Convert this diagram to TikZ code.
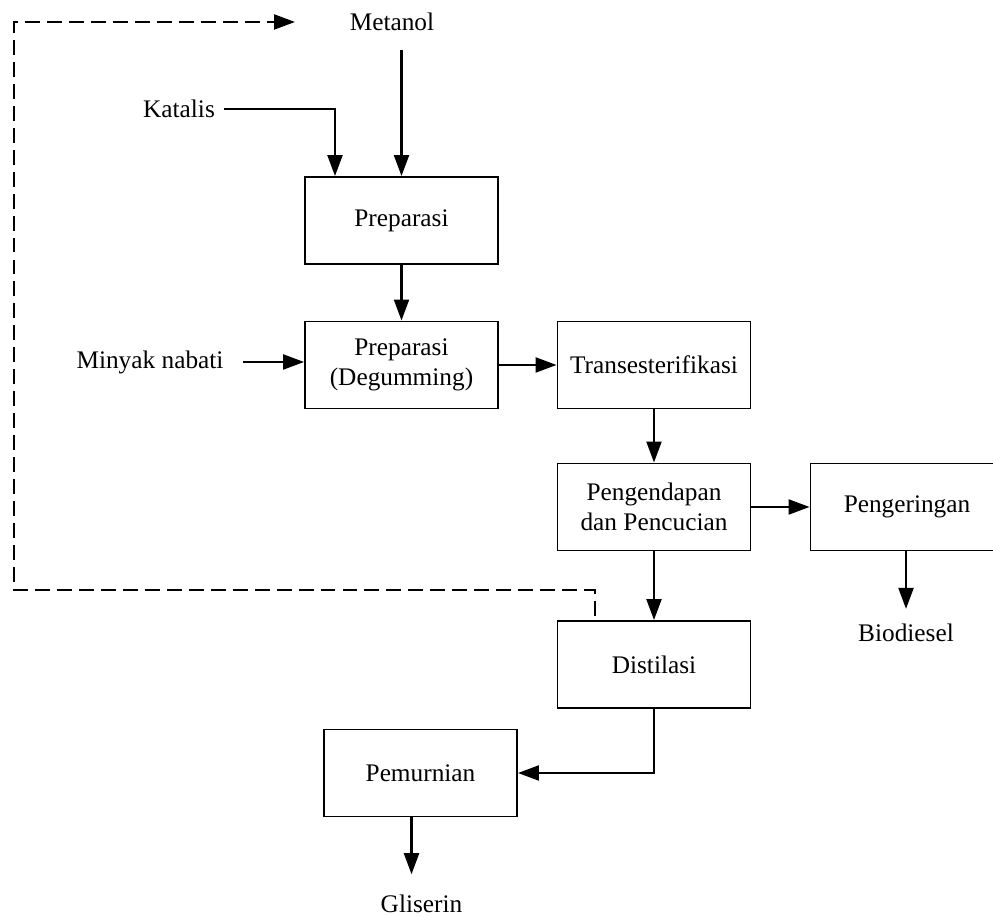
\documentclass[tikz,border=0pt]{standalone}
\usepackage{fontspec}
\setmainfont{Liberation Serif}
\usetikzlibrary{arrows.meta}

\begin{document}
\begin{tikzpicture}[
  box/.style={draw, line width=1.1pt, minimum width=3.86cm, minimum height=1.74cm, align=center},
  flow/.style={line width=1.3pt, -{Triangle[length=0.42cm,width=0.3cm]}},
  recycle/.style={line width=1.3pt, dash pattern=on 8.5pt off 4pt, -{Triangle[length=0.42cm,width=0.3cm]}},
  font=\fontsize{14.4}{17}\selectfont]
\clip (0,0) rectangle (19.86,18.34);
% Process boxes
\node[box] (prep) at (8.03,13.93) {Preparasi};
\node[box] (degum) at (8.03,11.04) {Preparasi\\(Degumming)};
\node[box] (trans) at (13.08,11.04) {Transesterifikasi};
\node[box] (endap) at (13.08,8.2) {Pengendapan\\dan Pencucian};
\node[box] (kering) at (18.14,8.2) {Pengeringan};
\node[box] (distil) at (13.08,5.05) {Distilasi};
\node[box] (murni) at (8.41,2.88) {Pemurnian};
% Inputs and products
\node (metanol) at (7.84,17.9) {Metanol};
\node (katalis) at (3.58,16.16) {Katalis};
\node (minyak) at (3.0,11.1) {Minyak nabati};
\node (biodiesel) at (18.12,5.68) {Biodiesel};
\node[anchor=base] (gliserin) at (8.43,0.08) {Gliserin};
\coordinate (back) at (5.9,17.9);
% Feed lines
\draw[flow] ([yshift=-0.25cm]metanol.south -| prep.north) -- (prep.north);
\draw[flow] ([xshift=0.05cm]katalis.east) -| ([xshift=-1.33cm]prep.north);
\draw[flow] ([xshift=0.27cm]minyak.east) -- (minyak.east -| degum.west);
% Main flow
\draw[flow] (prep) -- (degum);
\draw[flow] (degum) -- (trans);
\draw[flow] (trans) -- (endap);
\draw[flow] (endap) -- (kering);
\draw[flow] (endap) -- (distil);
\draw[flow] (kering.south -| biodiesel.north) -- ([yshift=0.18cm]biodiesel.north);
\draw[flow] (distil.south) |- (murni.east);
\draw[flow] ([xshift=-0.18cm]murni.south) -- ([xshift=-0.18cm,yshift=0.3cm]murni.south |- gliserin.north);
% Methanol recycle
\draw[recycle] ([xshift=-1.18cm,yshift=0.08cm]distil.north) -- ([xshift=-1.18cm]distil.north |- 0,6.54) -| (0.28,17.9) -- (back);
\end{tikzpicture}
\end{document}
